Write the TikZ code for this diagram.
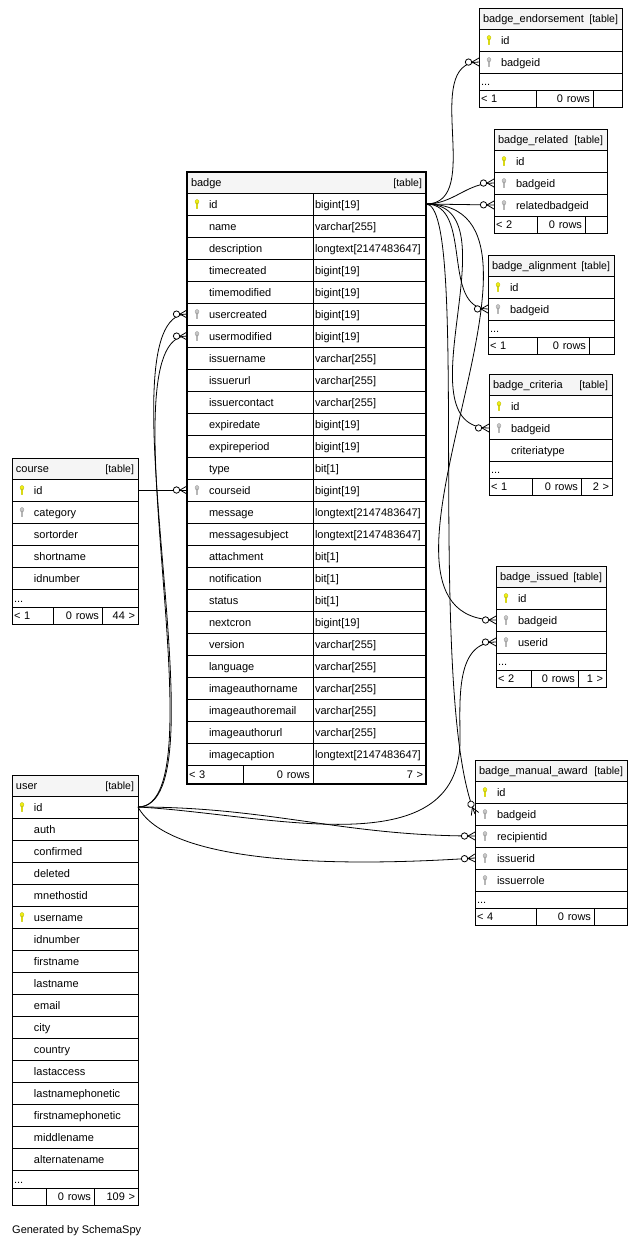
\documentclass[tikz,border=0pt]{standalone}
\usepackage{fontspec}
\setmainfont{Liberation Sans}
\usetikzlibrary{decorations.markings}

\definecolor{headgray}{RGB}{245,245,245}
\definecolor{pkyellow}{RGB}{240,240,20}
\definecolor{fkgray}{RGB}{200,200,200}

\newcommand{\tabfont}{\fontsize{11pt}{13pt}\selectfont\hyphenpenalty=10000\relax}
\newcommand{\tabhead}[1]{\hbox to\hsize{#1\hfill{\fontsize{10.5pt}{12pt}\selectfont[table]}}}
\newcommand{\keyicon}[2]{%
  \filldraw[fill=#2, draw=#2!75!black, line width=0.3pt, shift={(#1.west)}, xshift=10pt]
    (-0.8,-1) rectangle (0.8,4.5) (0,-2.3) ellipse (2 and 2.2);}

\tikzset{
  tabbox/.style={draw, line width=0.8pt, anchor=north west, outer sep=0pt,
    inner ysep=0pt, inner xsep=3pt, font=\tabfont, text height=9pt, text depth=1pt},
  headbox/.style={tabbox, fill=headgray, minimum height=21pt, inner xsep=4pt,
    text width=#1-8, align=left},
  rowbox/.style={tabbox, minimum height=22pt, text width=#1-6, align=left,
    execute at begin node={\hspace*{19pt}}},
  typebox/.style={tabbox, minimum height=22pt, inner xsep=2pt, text width=#1-4, align=left},
  dotsbox/.style={tabbox, minimum height=18pt, inner xsep=2pt, text width=#1-4, align=left},
  footl/.style={tabbox, minimum height=17pt, inner xsep=2pt, text width=#1-4, align=left},
  footr/.style={tabbox, minimum height=17pt, text width=#1-6, align=right},
  crow/.style={postaction={decorate}, decoration={markings, mark=at position -0.3pt with {
      \draw[line width=0.8pt] (-6.7pt,0pt) -- (0.3pt,4pt) (-6.7pt,0pt) -- (0.3pt,-4pt);
      \draw[line width=0.8pt, fill=white] (-10.2pt,0pt) circle (3.2pt);}}},
  rel/.style={line width=0.8pt, crow},
}

\begin{document}
\begin{tikzpicture}[x=1pt,y=-1pt]
\useasboundingbox (0,0) rectangle (638,1245);

% badge (main table)
\node[headbox=239] (badge) at (187,172) {\tabhead{badge}};
\foreach \c/\t [count=\i from 0] in {id/{bigint[19]}, name/{varchar[255]},
    description/{longtext[2147483647]}, timecreated/{bigint[19]}, timemodified/{bigint[19]},
    usercreated/{bigint[19]}, usermodified/{bigint[19]}, issuername/{varchar[255]},
    issuerurl/{varchar[255]}, issuercontact/{varchar[255]}, expiredate/{bigint[19]},
    expireperiod/{bigint[19]}, type/{bit[1]}, courseid/{bigint[19]},
    message/{longtext[2147483647]}, messagesubject/{longtext[2147483647]},
    attachment/{bit[1]}, notification/{bit[1]}, status/{bit[1]}, nextcron/{bigint[19]},
    version/{varchar[255]}, language/{varchar[255]}, imageauthorname/{varchar[255]},
    imageauthoremail/{varchar[255]}, imageauthorurl/{varchar[255]},
    imagecaption/{longtext[2147483647]}} {
  \node[rowbox=126] (badge-\c) at (187,193+22*\i) {\c};
  \node[typebox=113] (badge-\c-t) at (313,193+22*\i) {\t};
}
\node[footl=56, minimum height=19pt] (badge-f1) at (187,765) {< 3};
\node[footr=70, minimum height=19pt] (badge-f2) at (243,765) {0 rows};
\node[footr=113, minimum height=19pt] (badge-f3) at (313,765) {7 >};
\draw[line width=2.5pt] (badge.north west) rectangle (badge-f3.south east);

% course
\node[headbox=126] (course) at (12,458) {\tabhead{course}};
\foreach \c [count=\i from 0] in {id,category,sortorder,shortname,idnumber}
  \node[rowbox=126] (course-\c) at (12,479+22*\i) {\c};
\node[dotsbox=126] (course-dots) at (12,589) {...};
\node[footl=41] (course-f1) at (12,607) {< 1};
\node[footr=49] (course-f2) at (53,607) {0 rows};
\node[footr=36] (course-f3) at (102,607) {44 >};

% user
\node[headbox=126] (user) at (12,775) {\tabhead{user}};
\foreach \c [count=\i from 0] in {id,auth,confirmed,deleted,mnethostid,username,idnumber,
    firstname,lastname,email,city,country,lastaccess,lastnamephonetic,firstnamephonetic,
    middlename,alternatename}
  \node[rowbox=126] (user-\c) at (12,796+22*\i) {\c};
\node[dotsbox=126] (user-dots) at (12,1170) {...};
\node[footl=34] (user-f1) at (12,1188) {};
\node[footr=48] (user-f2) at (46,1188) {0 rows};
\node[footr=44] (user-f3) at (94,1188) {109 >};

% badge_endorsement
\node[headbox=143] (endorse) at (479,8) {\tabhead{badge\_endorsement}};
\foreach \c [count=\i from 0] in {id,badgeid}
  \node[rowbox=143] (endorse-\c) at (479,29+22*\i) {\c};
\node[dotsbox=143, minimum height=17pt] (endorse-dots) at (479,73) {...};
\node[footl=57] (endorse-f1) at (479,90) {< 1};
\node[footr=57] (endorse-f2) at (536,90) {0 rows};
\node[footr=29] (endorse-f3) at (593,90) {};

% badge_related
\node[headbox=113] (related) at (494,129) {\tabhead{badge\_related}};
\foreach \c [count=\i from 0] in {id,badgeid,relatedbadgeid}
  \node[rowbox=113] (related-\c) at (494,150+22*\i) {\c};
\node[footl=43] (related-f1) at (494,216) {< 2};
\node[footr=48] (related-f2) at (537,216) {0 rows};
\node[footr=22] (related-f3) at (585,216) {};

% badge_alignment
\node[headbox=126] (align) at (488,255) {\tabhead{badge\_alignment}};
\foreach \c [count=\i from 0] in {id,badgeid}
  \node[rowbox=126] (align-\c) at (488,276+22*\i) {\c};
\node[dotsbox=126, minimum height=17pt] (align-dots) at (488,320) {...};
\node[footl=49] (align-f1) at (488,337) {< 1};
\node[footr=52] (align-f2) at (537,337) {0 rows};
\node[footr=25] (align-f3) at (589,337) {};

% badge_criteria
\node[headbox=123] (crit) at (489,374) {\tabhead{badge\_criteria}};
\foreach \c [count=\i from 0] in {id,badgeid,criteriatype}
  \node[rowbox=123] (crit-\c) at (489,395+22*\i) {\c};
\node[dotsbox=123, minimum height=17pt] (crit-dots) at (489,461) {...};
\node[footl=43] (crit-f1) at (489,478) {< 1};
\node[footr=49] (crit-f2) at (532,478) {0 rows};
\node[footr=31] (crit-f3) at (581,478) {2 >};

% badge_issued
\node[headbox=110] (issued) at (496,566) {\tabhead{badge\_issued}};
\foreach \c [count=\i from 0] in {id,badgeid,userid}
  \node[rowbox=110] (issued-\c) at (496,587+22*\i) {\c};
\node[dotsbox=110, minimum height=17pt] (issued-dots) at (496,653) {...};
\node[footl=35] (issued-f1) at (496,670) {< 2};
\node[footr=47] (issued-f2) at (531,670) {0 rows};
\node[footr=28] (issued-f3) at (578,670) {1 >};

% badge_manual_award
\node[headbox=152] (manual) at (475,760) {\tabhead{badge\_manual\_award}};
\foreach \c [count=\i from 0] in {id,badgeid,recipientid,issuerid,issuerrole}
  \node[rowbox=152] (manual-\c) at (475,781+22*\i) {\c};
\node[dotsbox=152, minimum height=17pt] (manual-dots) at (475,891) {...};
\node[footl=61] (manual-f1) at (475,908) {< 4};
\node[footr=58] (manual-f2) at (536,908) {0 rows};
\node[footr=33] (manual-f3) at (594,908) {};

% key icons
\foreach \k in {badge-id,course-id,user-id,user-username,endorse-id,related-id,
    align-id,crit-id,issued-id,manual-id}
  \keyicon{\k}{pkyellow};
\foreach \k in {badge-usercreated,badge-usermodified,badge-courseid,course-category,
    endorse-badgeid,related-badgeid,related-relatedbadgeid,align-badgeid,crit-badgeid,
    issued-badgeid,issued-userid,manual-badgeid,manual-recipientid,manual-issuerid,
    manual-issuerrole}
  \keyicon{\k}{fkgray};

% relations
\coordinate (bend) at (460,740);
\draw[rel] (badge-id-t.east) to[out=0,in=180] (endorse-badgeid.west);
\draw[rel] (badge-id-t.east) to[out=0,in=180] (related-badgeid.west);
\draw[rel] (badge-id-t.east) -- (related-relatedbadgeid.west);
\draw[rel] (badge-id-t.east) to[out=0,in=180] (align-badgeid.west);
\draw[rel] (badge-id-t.east) to[out=0,in=180] (crit-badgeid.west);
\draw[rel] (badge-id-t.east) to[out=0,in=180] (issued-badgeid.west);
\draw[rel] (badge-id-t.east) .. controls +(45,0) and +(-50,-120) .. (manual-badgeid.west);
\draw[rel] (course-id.east) -- (badge-courseid.west);
\draw[rel] (user-id.east) to[out=0,in=180,distance=90pt] (badge-usercreated.west);
\draw[rel] (user-id.east) to[out=0,in=180,distance=85pt] (badge-usermodified.west);
\draw[rel] (user-id.east) to[out=-3,in=-90] (bend) to[out=90,in=180] (issued-userid.west);
\draw[rel] (user-id.east) to[out=0,in=180] (manual-recipientid.west);
\draw[rel] (user-id.east) .. controls +(30,55) and +(-150,10) .. (manual-issuerid.west);

\node[anchor=west, inner sep=0pt, font=\tabfont] (credit) at (12,1231) {Generated by SchemaSpy};
\end{tikzpicture}
\end{document}
